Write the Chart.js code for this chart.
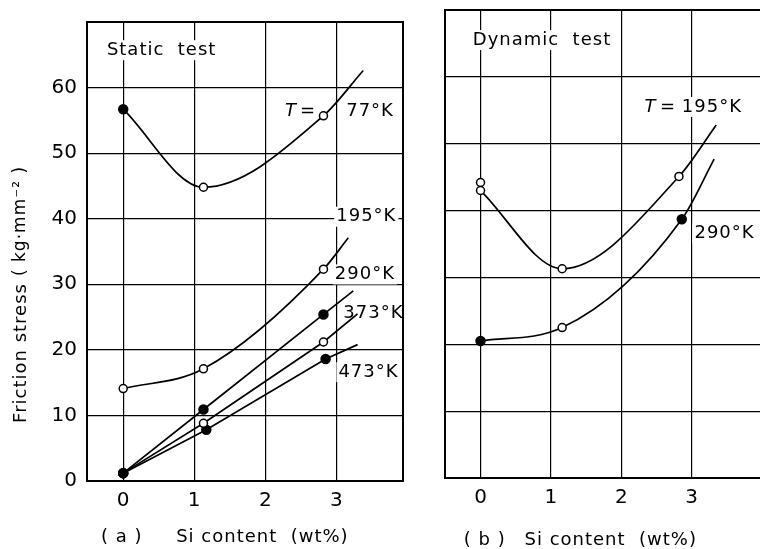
<!DOCTYPE html>
<html>
<head>
<meta charset="utf-8">
<script src="https://cdn.jsdelivr.net/npm/chart.js@4.4.1/dist/chart.umd.min.js"></script>
<style>
  html, body { margin: 0; padding: 0; background: #fff; overflow: hidden; }
  #wrap { position: relative; width: 760px; height: 549px; overflow: hidden; }
  canvas { position: absolute; top: 0; }
  #static-chart { left: 0; }
  #dynamic-chart { left: 400px; }
</style>
</head>
<body>
<div id="wrap">
  <canvas id="static-chart" width="410" height="549"></canvas>
  <canvas id="dynamic-chart" width="370" height="549"></canvas>
</div>
<script>
const siTicks = [0, 1, 2, 3];
const stressTicks = [0, 10, 20, 30, 40, 50, 60];

// (a) static test
const static77Si = [0, 1.13, 2.82, 3.38];
const static77Stress = [56.7, 44.8, 55.7, 62.6];
const static77Marks = ['filled', 'open', 'open', 'none'];

const static195Si = [0, 1.13, 2.82, 3.17];
const static195Stress = [14.1, 17.1, 32.3, 37.1];
const static195Marks = ['open', 'open', 'open', 'none'];

const static290Si = [0, 1.13, 2.82, 3.24];
const static290Stress = [1.2, 10.9, 25.4, 29.0];
const static290Marks = ['filled', 'filled', 'filled', 'none'];

const static373Si = [0, 1.13, 2.82, 3.3];
const static373Stress = [1.2, 8.8, 21.2, 25.5];
const static373Marks = ['filled', 'open', 'open', 'none'];

const static473Si = [0, 1.17, 2.85, 3.3];
const static473Stress = [1.2, 7.8, 18.6, 20.8];
const static473Marks = ['filled', 'filled', 'filled', 'none'];

// (b) dynamic test
const dynamic195Si = [0, 1.16, 2.82, 3.35];
const dynamic195Stress = [43.0, 31.3, 45.1, 52.8];
const dynamic195Marks = ['open', 'open', 'open', 'none'];
const dynamic195ExtraSi = [0];
const dynamic195ExtraStress = [44.2];

const dynamic290Si = [0, 1.16, 2.86, 3.32];
const dynamic290Stress = [20.5, 22.5, 38.7, 47.7];
const dynamic290Marks = ['filled', 'open', 'filled', 'none'];

const FACE = '"DejaVu Sans", sans-serif';
const fontOf = (size, italic) => (italic ? 'italic ' : '') + size + 'px ' + FACE;

function series(xs, ys, marks, curved) {
  return {
    data: xs.map((x, i) => ({ x: x, y: ys[i] })),
    showLine: true,
    borderColor: '#000',
    borderWidth: 1.7,
    tension: 0,
    cubicInterpolationMode: curved ? 'monotone' : 'default',
    pointRadius: marks.map(m => m === 'none' ? 0 : (m === 'filled' ? 4.5 : 4)),
    pointBackgroundColor: marks.map(m => m === 'filled' ? '#000' : '#fff'),
    pointBorderColor: '#000',
    pointBorderWidth: 1.5
  };
}

function markers(xs, ys) {
  return {
    data: xs.map((x, i) => ({ x: x, y: ys[i] })),
    showLine: false,
    pointRadius: 4,
    pointBackgroundColor: '#fff',
    pointBorderColor: '#000',
    pointBorderWidth: 1.5
  };
}

function scales(xMin, xMax, yLabels, yWidth, xHeight) {
  return {
    x: {
      type: 'linear', min: xMin, max: xMax,
      afterBuildTicks: s => { s.ticks = siTicks.map(v => ({ value: v })); },
      afterFit: s => { s.height = xHeight; },
      grid: { color: '#000', lineWidth: 1.2, drawTicks: false },
      border: { display: false },
      ticks: { color: '#000', font: { family: FACE, size: 20 }, padding: 8, maxRotation: 0 }
    },
    y: {
      type: 'linear', min: 0, max: 70,
      afterBuildTicks: s => { s.ticks = stressTicks.map(v => ({ value: v })); },
      afterFit: s => { s.width = yWidth; },
      grid: { color: '#000', lineWidth: 1.2, drawTicks: false },
      border: { display: false },
      ticks: { display: yLabels, color: '#000', font: { family: FACE, size: 20 }, padding: 10 }
    }
  };
}

// labels sit at data coordinates; "patch" labels get a white box over the grid
function notesPlugin(labels, captions) {
  const place = (chart, l) => [chart.scales.x.getPixelForValue(l.x), chart.scales.y.getPixelForValue(l.y)];
  return {
    id: 'notes',
    beforeDatasetsDraw(chart) {
      const ctx = chart.ctx;
      ctx.save();
      ctx.letterSpacing = '1px';
      labels.forEach(l => {
        if (!l.patch) return;
        ctx.font = fontOf(l.size || 18, l.italic);
        const w = ctx.measureText(l.text).width;
        const [px, py] = place(chart, l);
        ctx.fillStyle = '#fff';
        ctx.fillRect(px - 2, py - 10, w + 4, 20);
      });
      ctx.restore();
    },
    afterDatasetsDraw(chart) {
      const ctx = chart.ctx;
      ctx.save();
      ctx.letterSpacing = '1px';
      ctx.fillStyle = '#000';
      ctx.textBaseline = 'middle';
      ctx.textAlign = 'left';
      labels.forEach(l => {
        ctx.font = fontOf(l.size || 18, l.italic);
        const [px, py] = place(chart, l);
        ctx.fillText(l.text, px, py);
      });
      ctx.restore();
    },
    afterDraw(chart) {
      const ctx = chart.ctx;
      const a = chart.chartArea;
      ctx.save();
      ctx.strokeStyle = '#000';
      ctx.lineWidth = 2;
      ctx.strokeRect(a.left, a.top, a.right - a.left, a.bottom - a.top);
      ctx.fillStyle = '#000';
      ctx.textBaseline = 'middle';
      ctx.textAlign = 'center';
      ctx.letterSpacing = '1px';
      captions.forEach(c => {
        ctx.font = fontOf(c.size || 18, false);
        const px = c.x !== undefined ? chart.scales.x.getPixelForValue(c.x) : c.px;
        if (c.rotate) {
          ctx.save();
          ctx.translate(px, c.py);
          ctx.rotate(-Math.PI / 2);
          ctx.fillText(c.text, 0, 0);
          ctx.restore();
        } else {
          ctx.fillText(c.text, px, c.py);
        }
      });
      ctx.restore();
    }
  };
}

const common = {
  responsive: false,
  animation: false,
  devicePixelRatio: 1,
  events: [],
  plugins: { legend: { display: false }, tooltip: { enabled: false } }
};

new Chart(document.getElementById('static-chart'), {
  type: 'scatter',
  data: {
    datasets: [
      series(static77Si, static77Stress, static77Marks, true),
      series(static195Si, static195Stress, static195Marks, true),
      series(static290Si, static290Stress, static290Marks, false),
      series(static373Si, static373Stress, static373Marks, false),
      series(static473Si, static473Stress, static473Marks, false)
    ]
  },
  options: Object.assign({}, common, {
    layout: { padding: { top: 14, right: 7, left: 0, bottom: 0 } },
    scales: scales(-0.51, 3.94, true, 87, 68)
  }),
  plugins: [notesPlugin([
    { text: 'Static  test', x: -0.23, y: 65.7, patch: true },
    { text: 'T', x: 2.28, y: 56.4, italic: true },
    { text: '=', x: 2.49, y: 56.4 },
    { text: '77°K', x: 3.14, y: 56.4 },
    { text: '195°K', x: 3.0, y: 40.3, patch: true },
    { text: '290°K', x: 2.98, y: 31.5, patch: true },
    { text: '373°K', x: 3.1, y: 25.6, patch: true },
    { text: '473°K', x: 3.03, y: 16.6, patch: true }
  ], [
    { text: '( a )', x: -0.02, py: 537 },
    { text: 'Si content  (wt%)', x: 1.96, py: 537 },
    { text: 'Friction stress', px: 21, py: 353, rotate: true },
    { text: '( kg·mm⁻² )', px: 21, py: 221, rotate: true, size: 17 }
  ])]
});

new Chart(document.getElementById('dynamic-chart'), {
  type: 'scatter',
  data: {
    datasets: [
      series(dynamic195Si, dynamic195Stress, dynamic195Marks, true),
      markers(dynamic195ExtraSi, dynamic195ExtraStress),
      series(dynamic290Si, dynamic290Stress, dynamic290Marks, true)
    ]
  },
  options: Object.assign({}, common, {
    layout: { padding: { top: 10, right: 8, left: 0, bottom: 0 } },
    scales: scales(-0.505, 4, false, 45, 71)
  }),
  plugins: [notesPlugin([
    { text: 'Dynamic  test', x: -0.11, y: 65.5, patch: true },
    { text: 'T', x: 2.33, y: 55.5, italic: true, patch: true },
    { text: '=', x: 2.55, y: 55.5, patch: true },
    { text: '195°K', x: 2.86, y: 55.5, patch: true },
    { text: '290°K', x: 3.04, y: 36.6, patch: true }
  ], [
    { text: '( b )', x: 0.06, py: 540 },
    { text: 'Si content  (wt%)', x: 1.85, py: 540 }
  ])]
});
</script>
</body>
</html>
